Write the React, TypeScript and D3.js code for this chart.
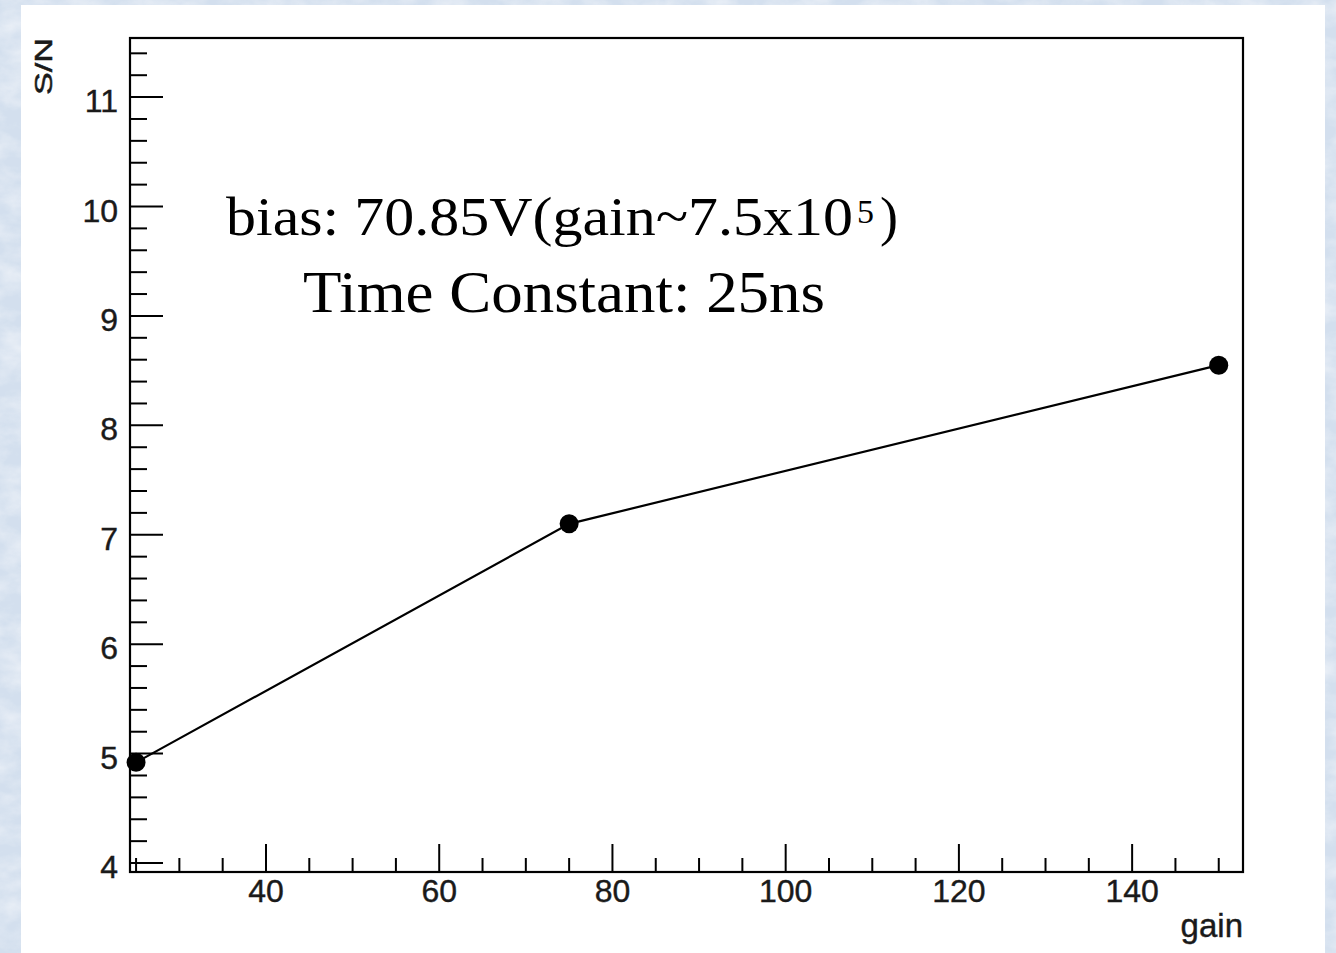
import React from "react";
import * as d3 from "d3";

const gainValues = [25, 75, 150];
const snValues = [4.92, 7.1, 8.55];
const xTickValues = [40, 60, 80, 100, 120, 140];
const yTickValues = [4, 5, 6, 7, 8, 9, 10, 11];
const xTitle = "gain";
const yTitle = "S/N";
const noteLine1 = "bias: 70.85V(gain~7.5x10";
const noteSup = "5";
const noteClose = ")";
const noteLine2 = "Time Constant: 25ns";

const W = 1336;
const H = 953;
const plot = { left: 130, right: 1243, top: 38, bottom: 872 };

export default function App() {
  const x = d3.scaleLinear().domain([24.3, 152.8]).range([plot.left, plot.right]);
  const y = d3.scaleLinear().domain([3.918, 11.54]).range([plot.bottom, plot.top]);

  const xMinor = d3.range(25, 153, 5).filter((v) => v % 20 !== 0 && v >= 24.3 && v <= 152.8);
  const yMinor = d3
    .range(40, 116, 2)
    .filter((v) => v % 10 !== 0)
    .map((v) => v / 10)
    .filter((v) => v <= 11.54);

  const pts = gainValues.map((g, i) => [g, snValues[i]] as [number, number]);
  const line = d3
    .line<[number, number]>()
    .x((d) => x(d[0]))
    .y((d) => y(d[1]));

  const sans = "'Liberation Sans', Arial, Helvetica, sans-serif";
  const serif = "'Liberation Serif', 'Times New Roman', serif";

  return (
    <svg
      width={W}
      height={H}
      viewBox={`0 0 ${W} ${H}`}
      style={{ position: "absolute", left: 0, top: 0, display: "block" }}
    >
      <defs>
        <filter id="paper" x="0" y="0" width="100%" height="100%">
          <feTurbulence type="fractalNoise" baseFrequency="0.03 0.05" numOctaves={4} seed={3} result="noise" />
          <feColorMatrix
            in="noise"
            type="matrix"
            values="0 0 0 0 1  0 0 0 0 1  0 0 0 0 1  0 0 0 1.6 -0.55"
          />
        </filter>
      </defs>
      <rect x={0} y={0} width={W} height={H} fill="#d3dfee" />
      <rect x={0} y={0} width={W} height={H} filter="url(#paper)" opacity={0.55} />
      <rect x={21} y={5} width={1325 - 21} height={H - 5} fill="#ffffff" />

      {/* frame */}
      <rect
        x={plot.left}
        y={plot.top}
        width={plot.right - plot.left}
        height={plot.bottom - plot.top}
        fill="none"
        stroke="#000"
        strokeWidth={2.2}
      />

      {/* y ticks */}
      {yTickValues.map((v) => (
        <g key={`yt${v}`}>
          <line x1={plot.left} x2={plot.left + 33} y1={y(v)} y2={y(v)} stroke="#000" strokeWidth={2} />
          <text
            x={plot.left - 12}
            y={y(v) + 15}
            textAnchor="end"
            fontFamily={sans}
            fontSize={32}
            fill="#1a1a1a"
            stroke="#1a1a1a"
            strokeWidth={0.4}
          >
            {v}
          </text>
        </g>
      ))}
      {yMinor.map((v) => (
        <line key={`ym${v}`} x1={plot.left} x2={plot.left + 17} y1={y(v)} y2={y(v)} stroke="#000" strokeWidth={2} />
      ))}

      {/* x ticks */}
      {xTickValues.map((v) => (
        <g key={`xt${v}`}>
          <line x1={x(v)} x2={x(v)} y1={plot.bottom} y2={plot.bottom - 28} stroke="#000" strokeWidth={2} />
          <text
            x={x(v)}
            y={902}
            textAnchor="middle"
            fontFamily={sans}
            fontSize={32}
            fill="#1a1a1a"
            stroke="#1a1a1a"
            strokeWidth={0.4}
          >
            {v}
          </text>
        </g>
      ))}
      {xMinor.map((v) => (
        <line key={`xm${v}`} x1={x(v)} x2={x(v)} y1={plot.bottom} y2={plot.bottom - 14} stroke="#000" strokeWidth={2} />
      ))}

      {/* axis titles */}
      <text
        x={plot.right}
        y={937}
        textAnchor="end"
        fontFamily={sans}
        fontSize={33}
        fill="#1a1a1a"
        stroke="#1a1a1a"
        strokeWidth={0.4}
      >
        {xTitle}
      </text>
      <text
        transform={`translate(52, 95) rotate(-90)`}
        x={0}
        y={0}
        fontFamily={sans}
        fontSize={24}
        textLength={57}
        lengthAdjust="spacingAndGlyphs"
        fill="#1a1a1a"
        stroke="#1a1a1a"
        strokeWidth={0.5}
      >
        {yTitle}
      </text>

      {/* data */}
      <path d={line(pts) || ""} fill="none" stroke="#000" strokeWidth={2.2} />
      {pts.map((p, i) => (
        <circle key={`p${i}`} cx={x(p[0])} cy={y(p[1])} r={9.5} fill="#000" />
      ))}

      {/* annotation */}
      <text
        x={226}
        y={235}
        fontFamily={serif}
        fontSize={54}
        textLength={627}
        lengthAdjust="spacingAndGlyphs"
        fill="#000"
      >
        {noteLine1}
      </text>
      <text x={857} y={223} fontFamily={serif} fontSize={34} fill="#000">
        {noteSup}
      </text>
      <text x={880} y={235} fontFamily={serif} fontSize={54} fill="#000">
        {noteClose}
      </text>
      <text
        x={303}
        y={312}
        fontFamily={serif}
        fontSize={60}
        textLength={522}
        lengthAdjust="spacingAndGlyphs"
        fill="#000"
      >
        {noteLine2}
      </text>
    </svg>
  );
}
